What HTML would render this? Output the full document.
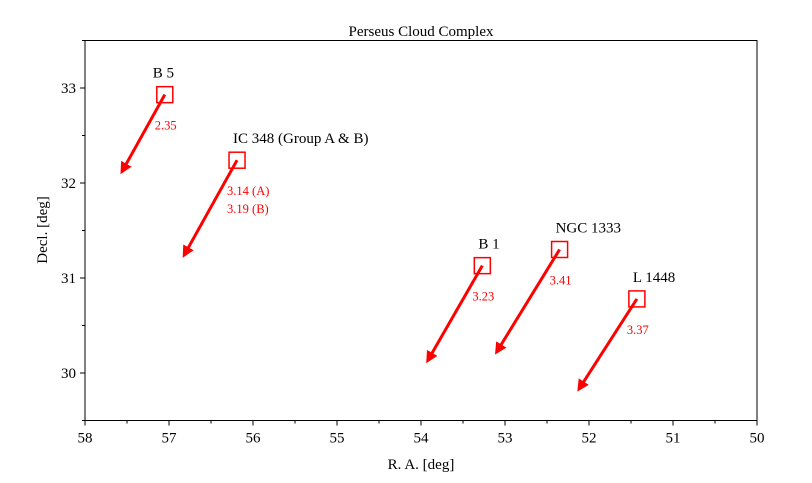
<!DOCTYPE html>
<html><head><meta charset="utf-8"><style>
body{margin:0;background:#fff}
svg text{font-family:"Liberation Serif",serif}
</style></head><body>
<svg id="c" width="812" height="478" xmlns="http://www.w3.org/2000/svg"></svg>
<script>
const names=["B 5","IC 348 (Group A & B)","B 1","NGC 1333","L 1448"];
const raStart=[57.05,56.19,53.27,52.35,51.43];
const decStart=[32.93,32.24,31.13,31.30,30.78];
const raEnd=[57.56,56.82,53.92,53.10,52.12];
const decEnd=[32.12,31.24,30.13,30.22,29.83];
const distLabels=[["2.35"],["3.14 (A)","3.19 (B)"],["3.23"],["3.41"],["3.37"]];
const xTicks=[58,57,56,55,54,53,52,51,50];
const yTicks=[30,31,32,33];
const L=85,R=757,T=40.5,B=420.5;
const x=v=>L+(58-v)*(R-L)/8;
const y=v=>B-(v-29.5)*(B-T)/4;
const svg=document.getElementById('c');
const NS='http://www.w3.org/2000/svg';
function el(t,a,txt){const e=document.createElementNS(NS,t);for(const k in a)e.setAttribute(k,a[k]);if(txt!==undefined)e.textContent=txt;svg.appendChild(e);return e;}
const defs=el('defs',{});
defs.innerHTML='<marker id="ah" markerWidth="4" markerHeight="4" refX="3" refY="2" orient="auto" markerUnits="strokeWidth"><path d="M0,0 L4,2 L0,4 Z" fill="red"/></marker>';
let f=el('rect',{x:L,y:T,width:R-L,height:B-T,fill:'none',stroke:'#000','stroke-width':1});

xTicks.forEach(v=>{let t=el('line',{x1:x(v),x2:x(v),y1:B,y2:B+5,stroke:'#000'});
let l=el('text',{x:x(v),y:B+22,'text-anchor':'middle','font-size':15},String(v));
if(v>50){let m=el('line',{x1:x(v-0.5),x2:x(v-0.5),y1:B,y2:B+3,stroke:'#000'});}});
for(let v=29.5;v<=33.5;v+=0.5){let isMaj=Number.isInteger(v);let t=el('line',{x1:L-(isMaj?5:3),x2:L,y1:y(v),y2:y(v),stroke:'#000'});}
yTicks.forEach(v=>{let l=el('text',{x:L-9,y:y(v)+5,'text-anchor':'end','font-size':15},String(v));});
let tt=el('text',{x:421,y:36,'text-anchor':'middle','font-size':15},'Perseus Cloud Complex');
let xt=el('text',{x:421,y:469,'text-anchor':'middle','font-size':15},'R. A. [deg]');
let yt=el('text',{x:47,y:230,'text-anchor':'middle','font-size':15,transform:'rotate(-90 47 230)'},'Decl. [deg]');
names.forEach((n,i)=>{
 const sx=x(raStart[i]),sy=y(decStart[i]),ex=x(raEnd[i]),ey=y(decEnd[i]);
 let a=el('line',{x1:sx,y1:sy,x2:ex,y2:ey,stroke:'red','stroke-width':3,'marker-end':'url(#ah)'});
 let s=el('rect',{x:sx-8,y:sy-8,width:16,height:16,fill:'none',stroke:'red','stroke-width':1.5});
 let lx=i==0?sx-12:sx-4;
 let nl=el('text',{x:lx,y:sy-17,'font-size':15},n);
 distLabels[i].forEach((d,j)=>{let dl=el('text',{x:sx-10,y:sy+35+j*18,'font-size':12.5,fill:'red'},d);});
});
</script>
</body></html>
